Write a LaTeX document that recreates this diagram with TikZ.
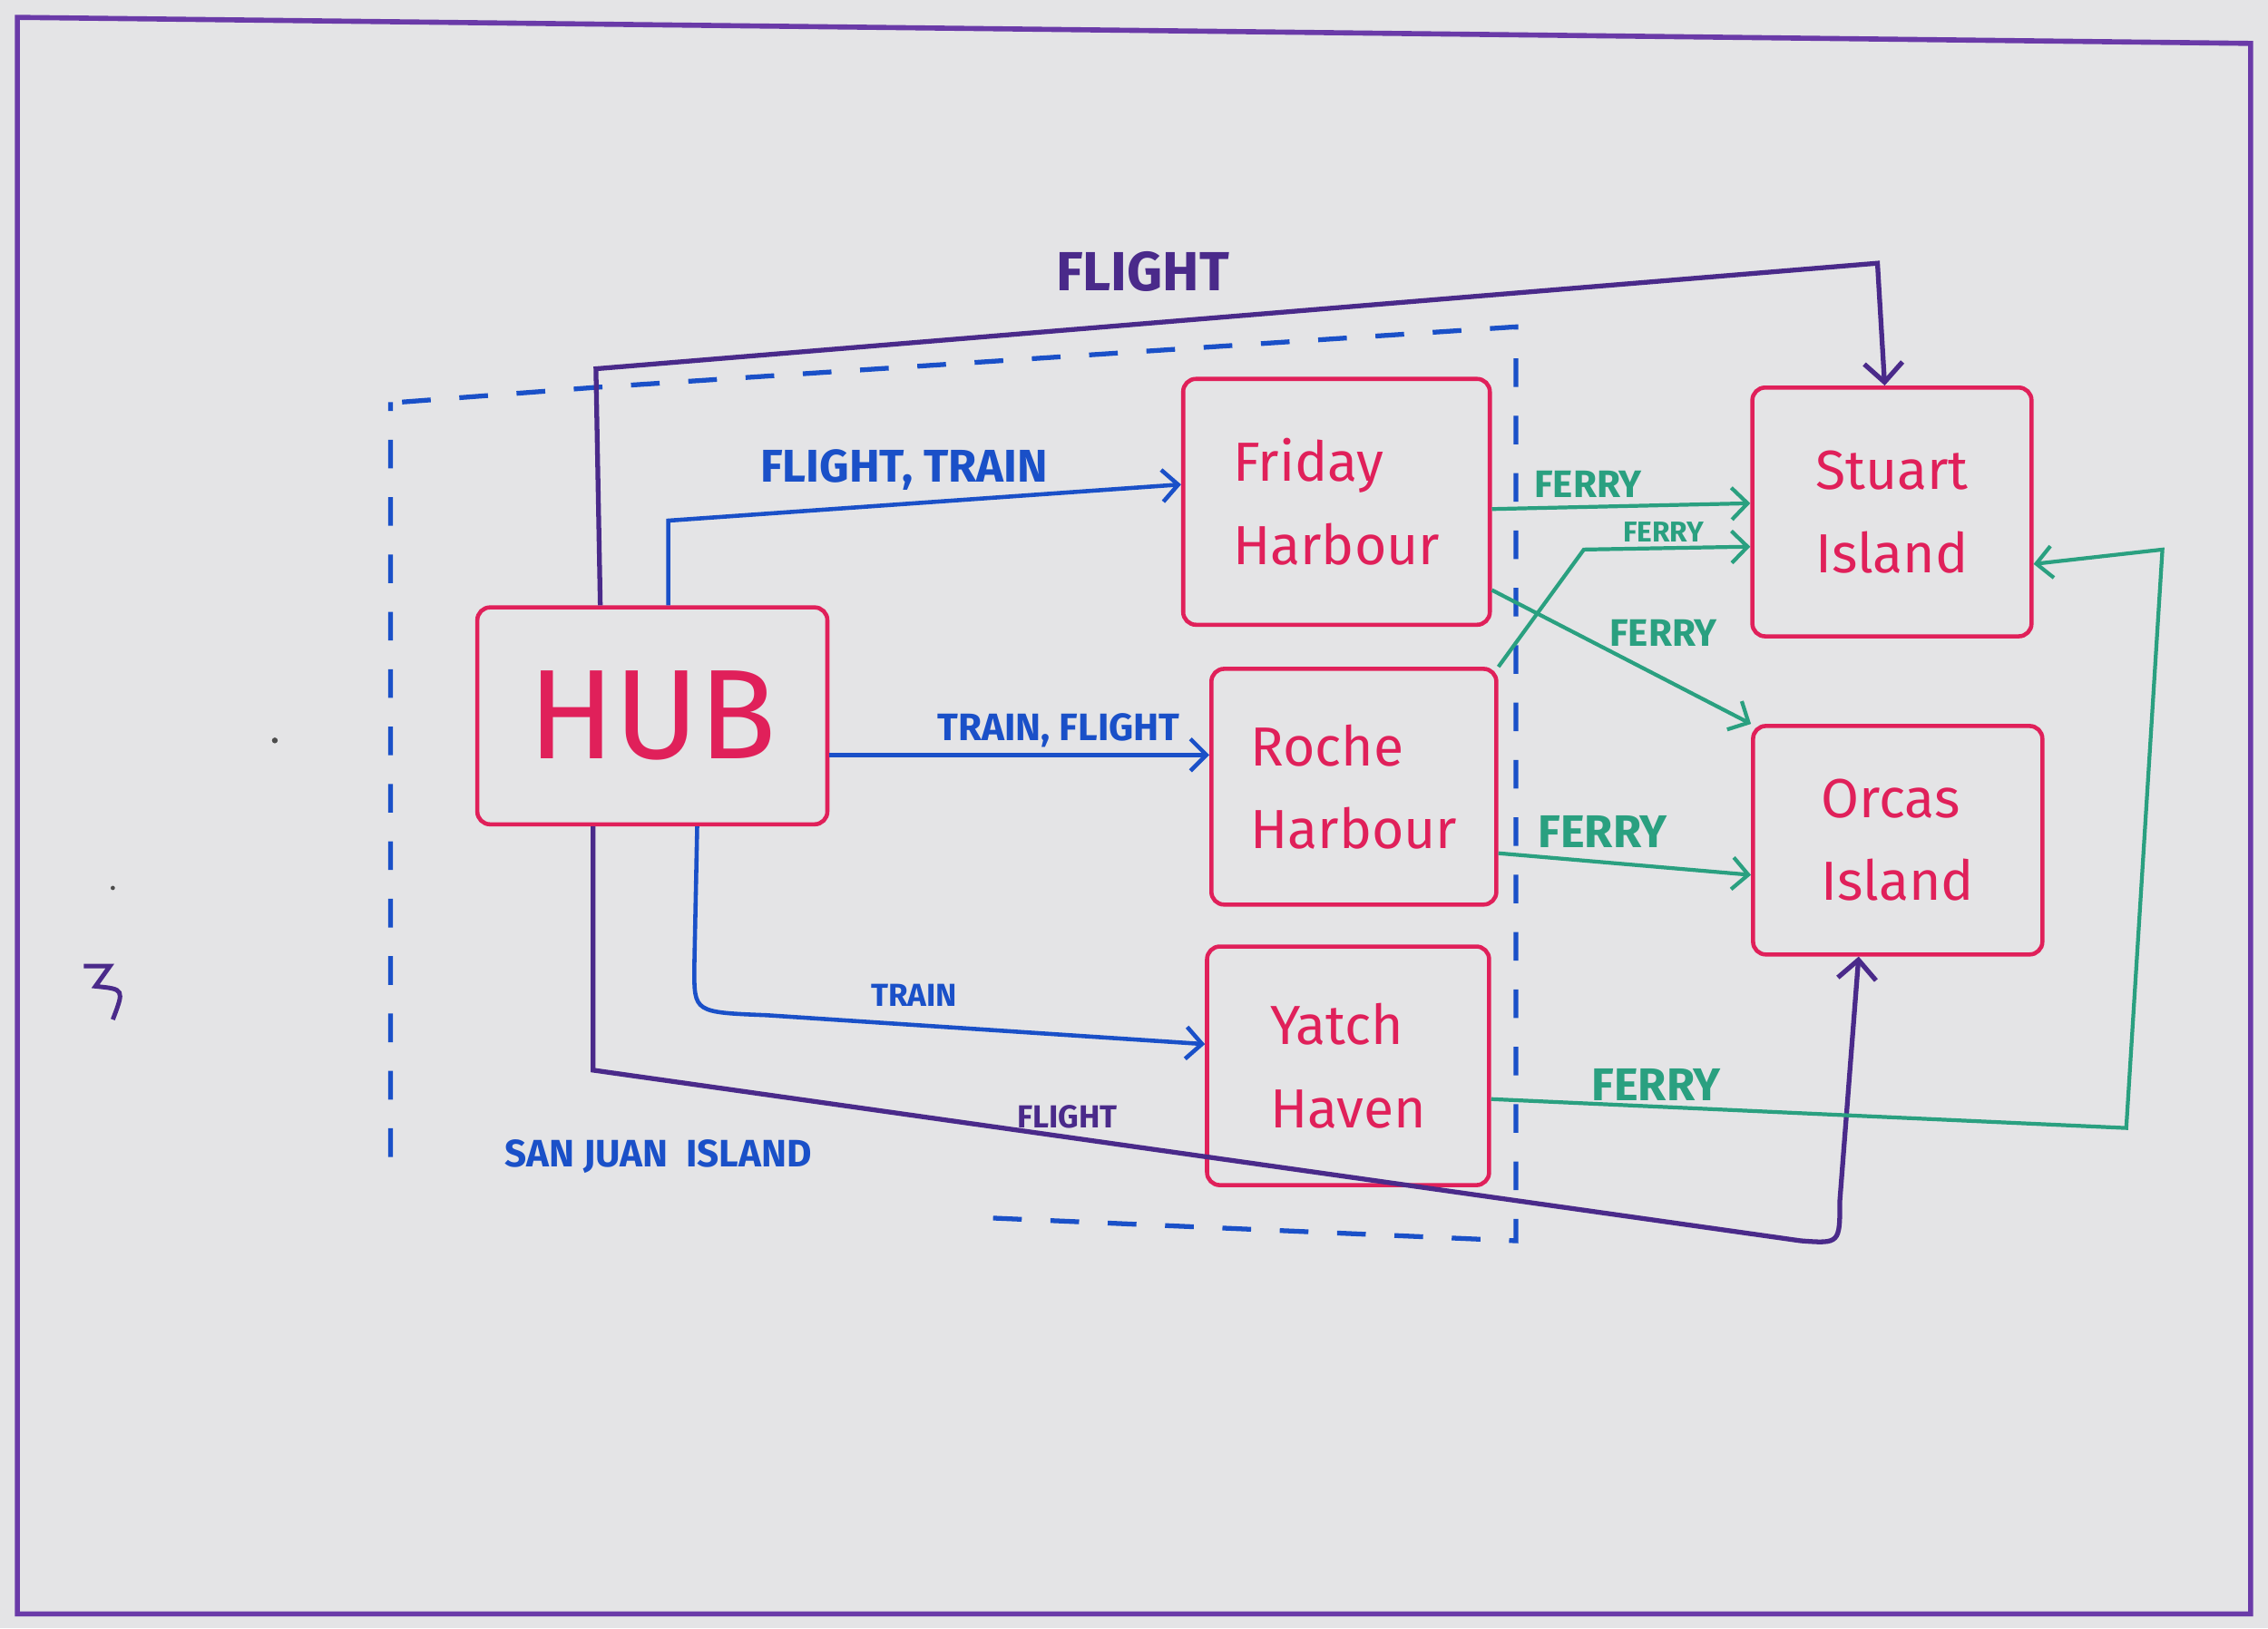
\documentclass[tikz,border=0pt]{standalone}
\usepackage{fontspec}
\setmainfont{Fira Sans}
\usetikzlibrary{arrows.meta}
\definecolor{bg}{HTML}{E4E4E6}
\definecolor{pur}{HTML}{4A2A8A}
\definecolor{frame}{HTML}{6A3AA8}
\definecolor{blu}{HTML}{1A50C8}
\definecolor{red}{HTML}{E0205A}
\definecolor{teal}{HTML}{2AA080}
\begin{document}
\begin{tikzpicture}[x=0.01594cm,y=-0.01594cm,
  place/.style={draw=red,line width=1.3pt,rounded corners=4pt,text=red,font=\LARGE,align=left,inner sep=0pt},
  bl/.style={blu,line width=1.3pt,-{Straight Barb[length=5pt]}},
  pl/.style={pur,line width=1.5pt,-{Straight Barb[length=6pt]}},
  fe/.style={teal,line width=1.2pt,-{Straight Barb[length=5pt]}},
  lab/.style={font=\bfseries}]
\fill[bg] (0,0) rectangle (1568,1126);
\useasboundingbox (0,0) rectangle (1568,1126);
\draw[frame,line width=1.6pt] (12,12) -- (1556,30) -- (1556,1116) -- (12,1116) -- cycle;
% dashed island region
\draw[blu,line width=1.5pt,dash pattern=on 9pt off 9pt] (278,278) -- (410,268) -- (1048,226) -- (1048,858) -- (680,842) (270,800) -- (270,278);
\node[blu,lab,font=\large\bfseries] (sj) at (455,800) {SAN JUAN \ ISLAND};
% places
\node[place,minimum width=242*0.01594cm,minimum height=150*0.01594cm,font=\fontsize{40}{40}\selectfont] (hub) at (451,495) {HUB};
\node[place,minimum width=212*0.01594cm,minimum height=170*0.01594cm] (fri) at (924,347) {Friday\\[4pt]Harbour};
\node[place,minimum width=197*0.01594cm,minimum height=163*0.01594cm] (roc) at (936,544) {Roche\\[4pt]Harbour};
\node[place,minimum width=195*0.01594cm,minimum height=165*0.01594cm] (yat) at (932,737) {Yatch\\[4pt]Haven};
\node[place,minimum width=193*0.01594cm,minimum height=172*0.01594cm] (stu) at (1308,354) {Stuart\\[4pt]Island};
\node[place,minimum width=200*0.01594cm,minimum height=158*0.01594cm] (orc) at (1312,581) {Orcas\\[4pt]Island};
% hub edges
\draw[bl] (hub.north -| 462,0) -- (462,360) -- (fri.west |- 0,335);
\node[blu,lab,font=\Large\bfseries] (l1) at (625,325) {FLIGHT, TRAIN};
\draw[bl] (hub.east |- 0,522) -- (roc.west |- 0,522);
\node[blu,lab,font=\large\bfseries] (l2) at (732,505) {TRAIN, FLIGHT};
\draw[bl] (hub.south -| 482,0) -- (480,670) .. controls (480,700) .. (530,702) -- (yat.west |- 0,722);
\node[blu,lab] (l3) at (632,688) {TRAIN};
% flights
\draw[pl] (hub.north -| 415,0) -- (412,255) -- (1298,182) -- (stu.north -| 1303,0);
\node[pur,lab,font=\LARGE\bfseries] (l4) at (790,188) {FLIGHT};
\draw[pl] (hub.south -| 410,0) -- (410,740) -- (1245,858) .. controls (1272,860) .. (1272,830) -- (orc.south -| 1285,0);
\node[pur,lab] (l5) at (738,772) {FLIGHT};
% ferries
\draw[fe] (fri.east |- 0,352) -- (stu.west |- 0,348);
\node[teal,lab,font=\large\bfseries] (f1) at (1098,335) {FERRY};
\draw[fe] (roc.north east) -- (1095,380) -- (stu.west |- 0,378);
\node[teal,lab,font=\small\bfseries] (f2) at (1150,368) {FERRY};
\draw[fe] (fri.east |- 0,408) -- (orc.north west);
\node[teal,lab,font=\large\bfseries] (f3) at (1150,438) {FERRY};
\draw[fe] (roc.east |- 0,590) -- (orc.west |- 0,605);
\node[teal,lab,font=\Large\bfseries] (f4) at (1108,575) {FERRY};
\draw[fe] (yat.east |- 0,760) -- (1470,780) -- (1495,380) -- (stu.east |- 0,390);
\node[teal,lab,font=\Large\bfseries] (f5) at (1145,750) {FERRY};
% stray marks
\fill[black!70] (190,512) circle (2);
\fill[black!70] (78,614) circle (1.5);
\draw[pur,line width=1.4pt] (58,668) -- (76,668) -- (66,682) .. controls (86,684) .. (78,705);
\end{tikzpicture}
\end{document}
